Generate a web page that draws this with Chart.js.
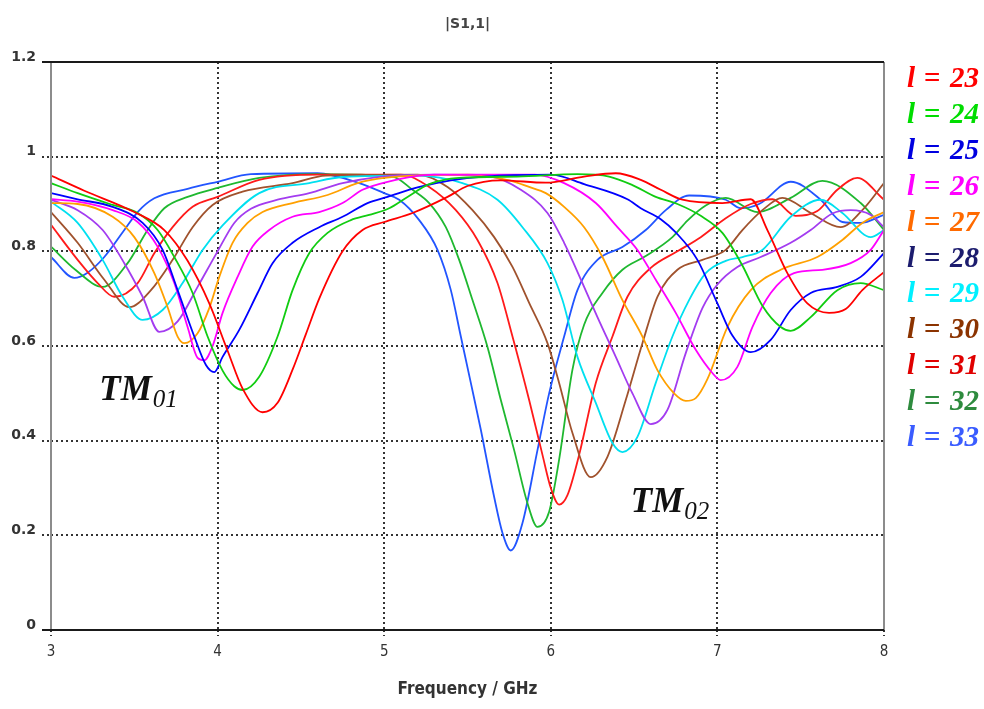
<!DOCTYPE html>
<html>
<head>
<meta charset="utf-8">
<title>|S1,1| vs frequency</title>
<script src="https://cdn.jsdelivr.net/npm/chart.js@4.4.1/dist/chart.umd.min.js"></script>
<style>
  html, body { margin: 0; padding: 0; background: #fff; }
</style>
</head>
<body>
<canvas id="s11" width="984" height="709"></canvas>
<script>
// |S1,1| sweeps for cylinder lengths l = 23 ... 33, [frequency GHz, magnitude]
const lengths = [23, 24, 25, 26, 27, 28, 29, 30, 31, 32, 33];

const l23 = [[3.0,0.96],[3.2,0.928],[3.5,0.883],[3.68,0.845],[3.82,0.78],[3.95,0.69],[4.06,0.59],[4.15,0.51],[4.27,0.46],[4.36,0.48],[4.45,0.55],[4.53,0.625],[4.61,0.7],[4.75,0.8],[4.87,0.845],[5.0,0.862],[5.17,0.881],[5.38,0.915],[5.5,0.938],[5.7,0.95],[5.97,0.945],[6.2,0.958],[6.39,0.965],[6.54,0.951],[6.66,0.93],[6.79,0.909],[7.03,0.902],[7.2,0.91],[7.3,0.845],[7.42,0.754],[7.54,0.69],[7.67,0.67],[7.77,0.678],[7.87,0.718],[8.0,0.756]];
const l24 = [[3.0,0.944],[3.16,0.923],[3.37,0.898],[3.52,0.881],[3.64,0.845],[3.74,0.788],[3.85,0.712],[3.94,0.62],[4.03,0.548],[4.1,0.515],[4.15,0.507],[4.25,0.535],[4.36,0.62],[4.45,0.718],[4.55,0.796],[4.66,0.839],[4.8,0.866],[4.91,0.877],[5.03,0.891],[5.14,0.915],[5.27,0.942],[5.45,0.955],[5.8,0.958],[6.16,0.963],[6.35,0.958],[6.49,0.94],[6.63,0.915],[6.76,0.9],[6.9,0.875],[7.03,0.839],[7.15,0.77],[7.27,0.685],[7.38,0.64],[7.44,0.632],[7.56,0.661],[7.72,0.718],[7.86,0.733],[8.0,0.718]];
const l25 = [[3.0,0.923],[3.16,0.91],[3.37,0.894],[3.55,0.86],[3.67,0.803],[3.76,0.718],[3.86,0.62],[3.93,0.56],[3.98,0.545],[4.03,0.577],[4.13,0.634],[4.24,0.712],[4.33,0.775],[4.45,0.818],[4.61,0.851],[4.75,0.873],[4.9,0.902],[5.02,0.915],[5.2,0.935],[5.4,0.95],[5.6,0.958],[6.0,0.962],[6.2,0.942],[6.46,0.91],[6.54,0.891],[6.66,0.868],[6.75,0.84],[6.88,0.782],[7.0,0.69],[7.09,0.622],[7.2,0.587],[7.32,0.613],[7.44,0.676],[7.56,0.712],[7.72,0.725],[7.86,0.746],[8.0,0.796]];
const l26 = [[3.0,0.91],[3.16,0.905],[3.37,0.887],[3.52,0.862],[3.64,0.81],[3.74,0.733],[3.82,0.64],[3.88,0.575],[3.92,0.57],[3.97,0.6],[4.03,0.67],[4.12,0.746],[4.21,0.81],[4.31,0.845],[4.45,0.873],[4.61,0.883],[4.75,0.902],[4.87,0.93],[5.02,0.947],[5.3,0.962],[5.9,0.962],[6.08,0.944],[6.27,0.902],[6.4,0.851],[6.52,0.803],[6.63,0.74],[6.75,0.67],[6.87,0.592],[6.97,0.543],[7.02,0.528],[7.12,0.556],[7.21,0.64],[7.32,0.712],[7.46,0.754],[7.63,0.761],[7.8,0.775],[7.92,0.803],[8.0,0.845]];
const l27 = [[3.0,0.902],[3.16,0.9],[3.37,0.873],[3.5,0.83],[3.62,0.754],[3.7,0.682],[3.76,0.62],[3.8,0.606],[3.88,0.627],[3.95,0.68],[4.01,0.746],[4.09,0.818],[4.18,0.86],[4.27,0.883],[4.45,0.902],[4.66,0.919],[4.84,0.944],[5.0,0.955],[5.5,0.962],[5.75,0.95],[5.87,0.936],[5.97,0.923],[6.08,0.894],[6.2,0.851],[6.31,0.788],[6.43,0.697],[6.55,0.62],[6.64,0.549],[6.74,0.5],[6.81,0.484],[6.87,0.49],[6.94,0.53],[7.06,0.64],[7.2,0.718],[7.38,0.761],[7.6,0.788],[7.75,0.824],[7.87,0.86],[8.0,0.883]];
const l28 = [[3.0,0.909],[3.16,0.887],[3.31,0.845],[3.44,0.775],[3.55,0.704],[3.65,0.63],[3.76,0.652],[3.88,0.725],[4.0,0.8],[4.1,0.86],[4.2,0.89],[4.36,0.909],[4.55,0.923],[4.75,0.944],[4.96,0.957],[5.3,0.962],[5.64,0.958],[5.82,0.93],[5.98,0.881],[6.08,0.818],[6.19,0.733],[6.28,0.661],[6.39,0.577],[6.49,0.5],[6.6,0.435],[6.7,0.465],[6.81,0.585],[6.91,0.68],[7.0,0.73],[7.12,0.767],[7.26,0.788],[7.44,0.818],[7.56,0.845],[7.69,0.88],[7.8,0.887],[7.92,0.877],[8.0,0.851]];
const l29 = [[3.0,0.905],[3.16,0.86],[3.31,0.782],[3.43,0.704],[3.55,0.655],[3.67,0.676],[3.79,0.733],[3.91,0.803],[4.03,0.855],[4.25,0.923],[4.55,0.944],[4.75,0.957],[5.2,0.96],[5.47,0.944],[5.68,0.909],[5.83,0.851],[5.98,0.775],[6.07,0.697],[6.16,0.577],[6.27,0.48],[6.37,0.395],[6.43,0.376],[6.52,0.408],[6.63,0.522],[6.73,0.62],[6.83,0.697],[6.93,0.754],[7.05,0.78],[7.15,0.788],[7.27,0.803],[7.44,0.873],[7.62,0.909],[7.75,0.881],[7.92,0.83],[8.0,0.845]];
const l30 = [[3.0,0.883],[3.16,0.818],[3.32,0.74],[3.47,0.682],[3.6,0.718],[3.73,0.782],[3.85,0.851],[3.97,0.898],[4.15,0.926],[4.45,0.944],[4.65,0.96],[5.2,0.962],[5.38,0.936],[5.53,0.887],[5.66,0.83],[5.77,0.767],[5.87,0.691],[5.98,0.606],[6.05,0.522],[6.13,0.416],[6.24,0.323],[6.34,0.366],[6.45,0.486],[6.55,0.606],[6.64,0.704],[6.76,0.761],[6.91,0.782],[7.05,0.803],[7.15,0.845],[7.27,0.887],[7.39,0.913],[7.56,0.881],[7.74,0.851],[7.87,0.887],[8.0,0.944]];
const l31 = [[3.0,0.856],[3.16,0.782],[3.28,0.733],[3.38,0.704],[3.52,0.733],[3.62,0.796],[3.73,0.851],[3.85,0.894],[4.0,0.915],[4.25,0.951],[4.6,0.962],[5.1,0.962],[5.27,0.936],[5.43,0.887],[5.56,0.824],[5.68,0.733],[5.77,0.62],[5.87,0.486],[5.95,0.37],[6.0,0.3],[6.05,0.265],[6.1,0.285],[6.17,0.37],[6.27,0.522],[6.37,0.62],[6.46,0.704],[6.6,0.765],[6.76,0.8],[6.9,0.83],[7.05,0.87],[7.2,0.9],[7.33,0.91],[7.47,0.875],[7.6,0.885],[7.72,0.93],[7.84,0.955],[8.0,0.909]];
const l32 = [[3.0,0.81],[3.15,0.76],[3.31,0.725],[3.46,0.775],[3.58,0.845],[3.68,0.891],[3.82,0.915],[4.0,0.934],[4.25,0.955],[4.6,0.963],[5.05,0.958],[5.17,0.93],[5.27,0.902],[5.37,0.851],[5.45,0.782],[5.53,0.697],[5.62,0.598],[5.7,0.486],[5.78,0.38],[5.86,0.268],[5.92,0.218],[5.99,0.25],[6.05,0.36],[6.13,0.55],[6.2,0.645],[6.31,0.712],[6.43,0.761],[6.57,0.79],[6.73,0.83],[6.82,0.865],[6.93,0.897],[7.05,0.913],[7.24,0.883],[7.44,0.913],[7.63,0.949],[7.86,0.902],[8.0,0.845]];
const l33 = [[3.0,0.788],[3.14,0.744],[3.22,0.755],[3.32,0.788],[3.44,0.845],[3.52,0.883],[3.62,0.912],[3.82,0.932],[4.0,0.947],[4.2,0.963],[4.6,0.965],[4.85,0.944],[5.0,0.923],[5.09,0.909],[5.21,0.866],[5.32,0.803],[5.4,0.718],[5.46,0.62],[5.52,0.522],[5.58,0.423],[5.66,0.281],[5.71,0.205],[5.76,0.168],[5.83,0.226],[5.92,0.38],[5.99,0.5],[6.08,0.62],[6.16,0.718],[6.28,0.782],[6.43,0.809],[6.57,0.845],[6.69,0.887],[6.83,0.918],[7.05,0.909],[7.14,0.891],[7.25,0.9],[7.44,0.947],[7.62,0.909],[7.75,0.862],[7.86,0.86],[8.0,0.877]];

const curves = [l23, l24, l25, l26, l27, l28, l29, l30, l31, l32, l33];

const freqTicks = [3, 4, 5, 6, 7, 8];
const magTicks = [0, 0.2, 0.4, 0.6, 0.8, 1, 1.2];

const lineColors = ['#ff0000', '#11cc11', '#0000ff', '#ff00ff', '#ffa000', '#a33cf0',
                    '#00e0f0', '#a0522d', '#ff1a1a', '#1fb830', '#2255ff'];
const legendColors = ['#ff0000', '#00dd00', '#0000e0', '#ff00ff', '#ff6a00', '#1c1c6e',
                      '#00f0ff', '#8b3300', '#e00000', '#2e8b3e', '#3a5cff'];

const DOTS = [2, 3];
const isEdge = v => v === magTicks[0] || v === magTicks[magTicks.length - 1];

// frame, title, mode labels and the coloured length key
const decorations = {
  id: 'decorations',
  afterDatasetsDraw(chart) {
    const { ctx, chartArea: a, scales: { x, y } } = chart;
    ctx.save();

    ctx.lineWidth = 2;
    ctx.strokeStyle = '#8c8c8c';
    ctx.beginPath();
    ctx.moveTo(a.left, a.top); ctx.lineTo(a.left, a.bottom);
    ctx.moveTo(a.right, a.top); ctx.lineTo(a.right, a.bottom);
    ctx.stroke();
    ctx.strokeStyle = '#1a1a1a';
    ctx.beginPath();
    ctx.moveTo(a.left - 9, a.top); ctx.lineTo(a.right, a.top);
    ctx.moveTo(a.left - 9, a.bottom); ctx.lineTo(a.right, a.bottom);
    ctx.stroke();

    ctx.fillStyle = '#444';
    ctx.font = 'bold 14px "DejaVu Sans"';
    ctx.textAlign = 'center';
    ctx.textBaseline = 'middle';
    ctx.fillText('|S1,1|', (a.left + a.right) / 2, 24);

    const mode = (base, sub, f, s) => {
      const px = x.getPixelForValue(f), py = y.getPixelForValue(s);
      ctx.fillStyle = '#111';
      ctx.textAlign = 'left';
      ctx.textBaseline = 'alphabetic';
      ctx.font = 'bold italic 35px "Liberation Serif"';
      ctx.fillText(base, px, py);
      const w = ctx.measureText(base).width;
      ctx.font = 'italic 25px "Liberation Serif"';
      ctx.fillText(sub, px + w + 1, py + 7);
    };
    mode('TM', '01', 3.29, 0.486);
    mode('TM', '02', 6.48, 0.25);

    ctx.font = 'bold italic 29px "Liberation Serif"';
    ctx.textBaseline = 'alphabetic';
    lengths.forEach((l, i) => {
      const ly = a.top + 25 + i * 35.9;
      ctx.fillStyle = legendColors[i];
      ctx.textAlign = 'left';
      ctx.fillText('l', a.right + 23, ly);
      ctx.textAlign = 'center';
      ctx.fillText('=', a.right + 48, ly);
      ctx.textAlign = 'left';
      ctx.fillText(String(l), a.right + 66, ly);
    });
    ctx.restore();
  }
};

new Chart(document.getElementById('s11'), {
  type: 'line',
  data: {
    datasets: lengths.map((l, i) => ({
      label: 'l = ' + l,
      data: curves[i].map(([f, s]) => ({ x: f, y: s })),
      borderColor: lineColors[i],
      borderWidth: 1.8,
      pointRadius: 0,
      fill: false,
      cubicInterpolationMode: 'monotone'
    }))
  },
  options: {
    responsive: false,
    animation: false,
    layout: { padding: { top: 62, right: 100, left: 0, bottom: 0 } },
    plugins: { legend: { display: false }, tooltip: { enabled: false } },
    scales: {
      x: {
        type: 'linear',
        min: 3,
        max: 8,
        afterBuildTicks: s => { s.ticks = freqTicks.map(v => ({ value: v })); },
        afterFit: s => { s.height = 79; },
        ticks: { color: '#333', padding: 7, font: { family: 'DejaVu Sans Condensed', size: 15 } },
        grid: { color: '#333', lineWidth: 2, tickLength: 6, tickBorderDash: DOTS },
        border: { display: false, dash: DOTS },
        title: {
          display: true,
          text: 'Frequency / GHz',
          color: '#333',
          font: { family: 'DejaVu Sans Condensed', size: 17, weight: 'bold' },
          padding: { top: 0, bottom: 9 }
        }
      },
      y: {
        min: 0,
        max: 1.2,
        afterBuildTicks: s => { s.ticks = magTicks.map(v => ({ value: v })); },
        afterFit: s => { s.width = 51; },
        ticks: {
          color: '#333',
          padding: 6,
          labelOffset: -5,
          font: { family: 'DejaVu Sans', size: 14, weight: 'bold' },
          callback: v => String(v)
        },
        grid: {
          color: '#333',
          lineWidth: 2,
          tickLength: 9,
          tickBorderDash: c => isEdge(c.tick && c.tick.value) ? [] : DOTS
        },
        border: { display: false, dash: c => (c.tick && !isEdge(c.tick.value)) ? DOTS : [] }
      }
    }
  },
  plugins: [decorations]
});
</script>
</body>
</html>
